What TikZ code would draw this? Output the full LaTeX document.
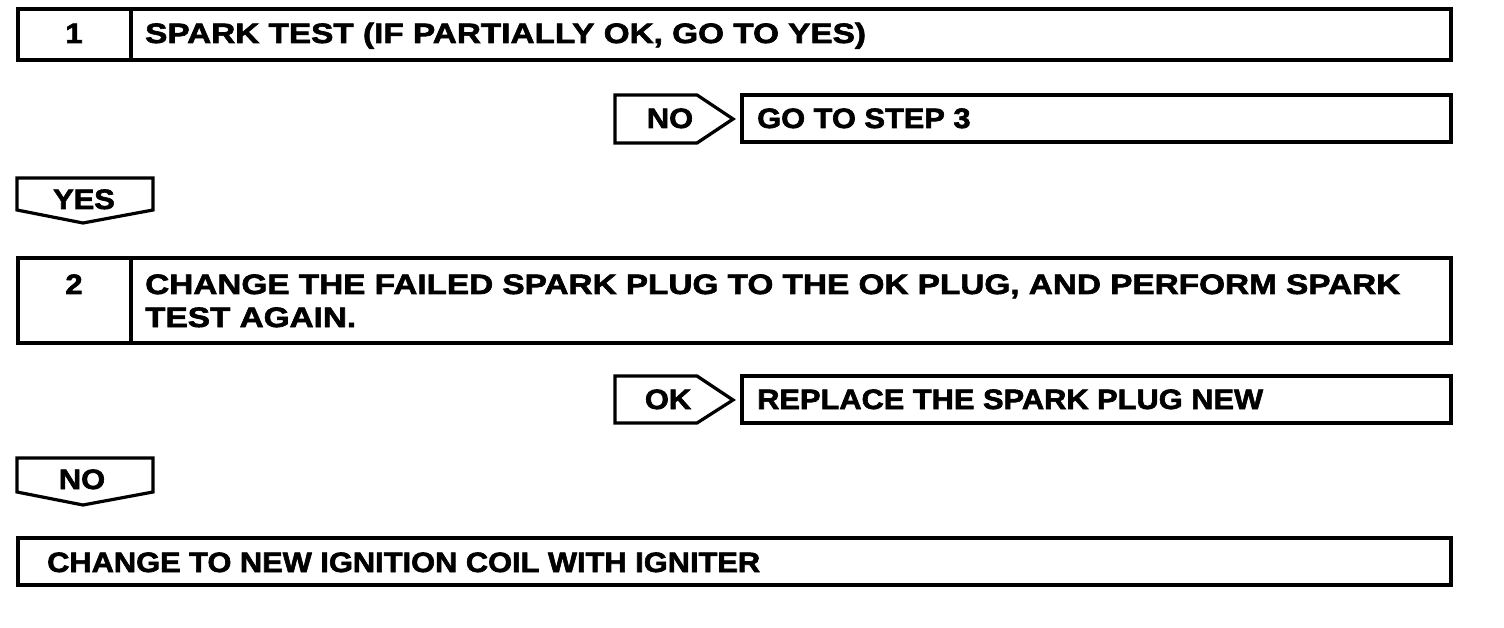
\documentclass[tikz,border=0pt]{standalone}
\usepackage{fontspec}
\setmainfont{Liberation Sans}
\newfontfamily\widea[FakeStretch=1.19,FakeBold=2.2]{Liberation Sans Bold}
\newfontfamily\wideb[FakeStretch=1.1,FakeBold=2.2]{Liberation Sans Bold}
\begin{document}
\begin{tikzpicture}[x=1pt,y=-1pt,
  box/.style={draw=black,line width=3.2pt,line join=miter},
  lbl/.style={inner sep=0pt,font=\wideb\fontsize{28}{33}\selectfont},
  lbla/.style={inner sep=0pt,font=\widea\fontsize{28}{33}\selectfont},
]
\useasboundingbox (0,0) rectangle (1504,628);
% step 1
\draw[box] (18,9) rectangle (1451,60);
\draw[box] (131,9) -- (131,60);
\node[lbl,anchor=base] (n1) at (74,43) {1};
\node[lbla,anchor=base west] (t1) at (145,43) {SPARK TEST (IF PARTIALLY OK, GO TO YES)};
% NO -> go to step 3
\draw[box] (615,95) -- (697,95) -- (733,119) -- (697,143) -- (615,143) -- cycle;
\node[lbl,anchor=base] (no1) at (670,128) {NO};
\draw[box] (742,95) rectangle (1451,142);
\node[lbl,anchor=base west] (g3) at (757,128) {GO TO STEP 3};
% YES
\draw[box] (17,178) -- (153,178) -- (153,210) -- (83,223) -- (17,210) -- cycle;
\node[lbl,anchor=base] (yes) at (84,209) {YES};
% step 2
\draw[box] (18,258) rectangle (1451,343);
\draw[box] (131,258) -- (131,343);
\node[lbl,anchor=base] (n2) at (74,294) {2};
\node[lbla,anchor=base west] (t2a) at (145,294) {CHANGE THE FAILED SPARK PLUG TO THE OK PLUG, AND PERFORM SPARK};
\node[lbla,anchor=base west] (t2b) at (145,327) {TEST AGAIN.};
% OK -> replace
\draw[box] (615,376) -- (697,376) -- (733,400) -- (697,423) -- (615,423) -- cycle;
\node[lbl,anchor=base] (ok) at (668,409) {OK};
\draw[box] (742,376) rectangle (1451,423);
\node[lbl,anchor=base west] (rp) at (757,409) {REPLACE THE SPARK PLUG NEW};
% NO
\draw[box] (17,458) -- (153,458) -- (153,492) -- (83,505) -- (17,492) -- cycle;
\node[lbl,anchor=base] (no2) at (82,489) {NO};
% final
\draw[box] (18,538) rectangle (1451,585);
\node[lbl,anchor=base west] (fin) at (47,572) {CHANGE TO NEW IGNITION COIL WITH IGNITER};
\end{tikzpicture}
\end{document}
